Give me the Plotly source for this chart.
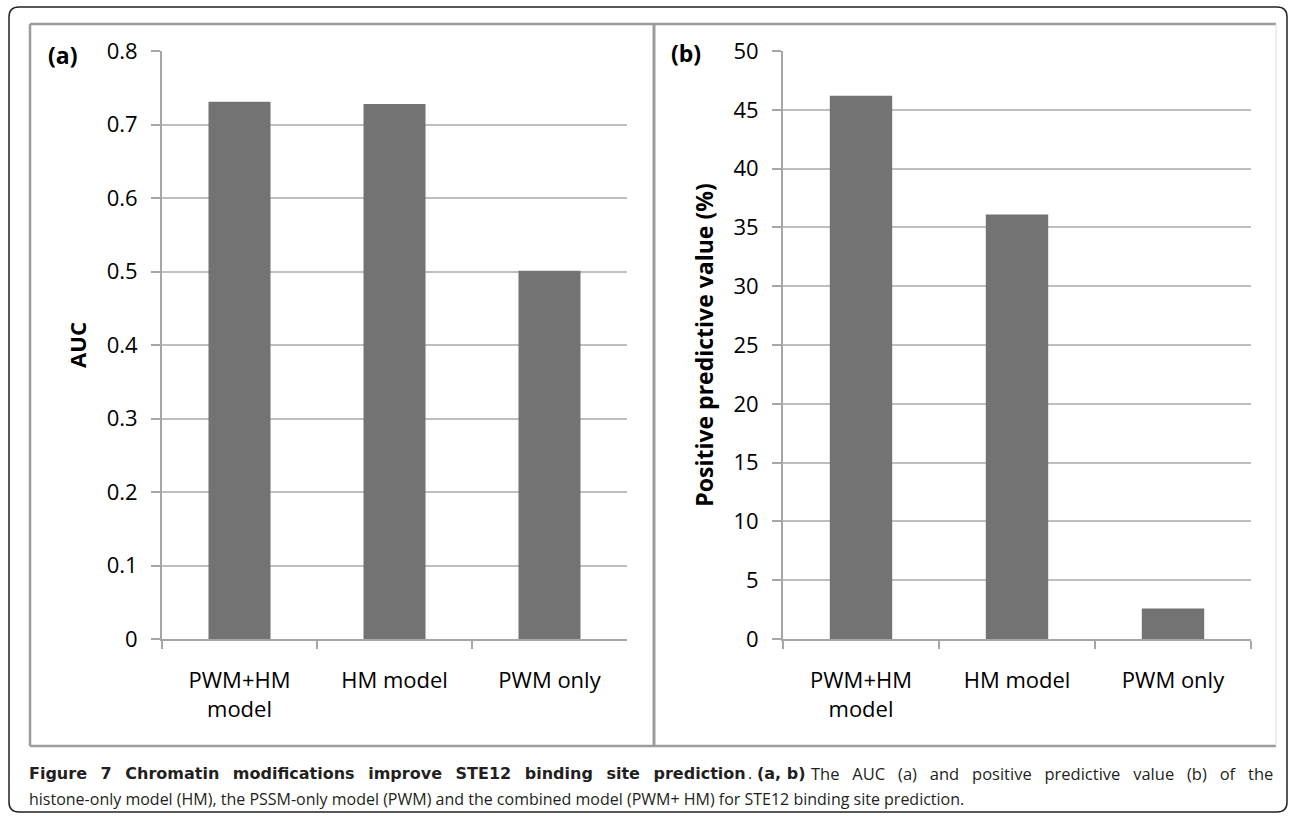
import plotly.graph_objects as go

# ---- data ----
categories = ["PWM+HM<br>model", "HM model", "PWM only"]
auc_values = [0.731, 0.728, 0.501]
ppv_values = [46.2, 36.1, 2.6]
auc_ticks = [0, 0.1, 0.2, 0.3, 0.4, 0.5, 0.6, 0.7, 0.8]
auc_ticktext = ["0", "0.1", "0.2", "0.3", "0.4", "0.5", "0.6", "0.7", "0.8"]
ppv_ticks = [0, 5, 10, 15, 20, 25, 30, 35, 40, 45, 50]
ppv_ticktext = [str(v) for v in ppv_ticks]

caption_bold = "Figure 7 Chromatin modifications improve STE12 binding site prediction"
caption_ab = "(a, b)"
caption_rest1 = "The AUC (a) and positive predictive value (b) of the"
caption_line2 = ("histone-only model (HM), the PSSM-only model (PWM) and the combined model "
                 "(PWM+ HM) for STE12 binding site prediction.")

W, H = 1290, 816
FONT = "Open Sans"
BOLDFONT = "DejaVu Sans"
BAR = "#737373"
AXC = "#a6a6a6"
GRID = "#bfbfbf"
FRAME = "#9c9c9c"


def px(x):
    return x / W


def py(y):
    return 1 - y / H


fig = go.Figure()
fig.add_trace(go.Bar(x=categories, y=auc_values, marker=dict(color=BAR, line=dict(width=0)),
                     xaxis="x", yaxis="y", showlegend=False, hoverinfo="skip"))
fig.add_trace(go.Bar(x=categories, y=ppv_values, marker=dict(color=BAR, line=dict(width=0)),
                     xaxis="x2", yaxis="y2", showlegend=False, hoverinfo="skip"))

xcommon = dict(type="category", tickson="boundaries", ticks="outside", ticklen=8,
               tickwidth=2, tickcolor=AXC, showline=True, linecolor=AXC, linewidth=2,
               showgrid=False, tickfont=dict(family=FONT, size=22, color="#000000"),
               ticklabelstandoff=21, automargin=False, fixedrange=True)
ycommon = dict(ticks="outside", ticklen=9, tickwidth=2, tickcolor=AXC, showline=True,
               linecolor=AXC, linewidth=2, showgrid=True, gridcolor=GRID, gridwidth=2,
               zeroline=False, tickfont=dict(family=FONT, size=22, color="#000000"),
               ticklabelstandoff=9, automargin=False, fixedrange=True)

ydom = [py(639), py(51)]
fig.update_layout(
    width=W, height=H, margin=dict(l=0, r=0, t=0, b=0, autoexpand=False),
    paper_bgcolor="white", plot_bgcolor="white", bargap=0.6,
    xaxis=dict(domain=[px(162), px(627)], anchor="y", **xcommon),
    yaxis=dict(domain=ydom, anchor="x", range=[0, 0.8], tickvals=auc_ticks,
               ticktext=auc_ticktext,
               title=dict(text="<b>AUC</b>", standoff=14,
                          font=dict(family=FONT, size=22, color="#000000")),
               **ycommon),
    xaxis2=dict(domain=[px(783), px(1251)], anchor="y2", **xcommon),
    yaxis2=dict(domain=ydom, anchor="x2", range=[0, 50], tickvals=ppv_ticks,
                ticktext=ppv_ticktext,
                title=dict(text="<b>Positive predictive value (%)</b>", standoff=13,
                           font=dict(family=FONT, size=23, color="#000000")),
                **ycommon),
)

# ---- frame decorations ----
shapes = []
x0, y0, x1, y1, r = 9, 7, 1287, 812, 10
path = (f"M {px(x0 + r)},{py(y0)} L {px(x1 - r)},{py(y0)} Q {px(x1)},{py(y0)} {px(x1)},{py(y0 + r)} "
        f"L {px(x1)},{py(y1 - r)} Q {px(x1)},{py(y1)} {px(x1 - r)},{py(y1)} "
        f"L {px(x0 + r)},{py(y1)} Q {px(x0)},{py(y1)} {px(x0)},{py(y1 - r)} "
        f"L {px(x0)},{py(y0 + r)} Q {px(x0)},{py(y0)} {px(x0 + r)},{py(y0)} Z")
shapes.append(dict(type="path", xref="paper", yref="paper", path=path,
                   line=dict(color="#222222", width=1.5)))


def seg(xa, ya, xb, yb, color, width):
    shapes.append(dict(type="line", xref="paper", yref="paper", x0=px(xa), y0=py(ya),
                       x1=px(xb), y1=py(yb), line=dict(color=color, width=width)))


seg(30, 24, 1276, 24, FRAME, 2.5)
seg(30, 746, 1276, 746, FRAME, 2.5)
seg(30, 24, 30, 746, FRAME, 2.5)
seg(654, 24, 654, 746, FRAME, 3)
seg(1276, 24, 1276, 746, "#dcdcdc", 1)
fig.update_layout(shapes=shapes)

# ---- text annotations ----
ann = []


def add_text(text, x, y, size, xanchor="left", color="#231f20", family=FONT):
    ann.append(dict(text=text, x=px(x), y=py(y), xref="paper", yref="paper",
                    showarrow=False, xanchor=xanchor, yanchor="middle",
                    font=dict(family=family, size=size, color=color)))


add_text("<b>(a)</b>", 62, 55, 23, "center", "#000000")
add_text("<b>(b)</b>", 686, 53, 23, "center", "#000000")

gapA = " " + "\u2002"
gapC = " " + "\u00a0" * 2
add_text("<b>" + gapA.join(caption_bold.split(" ")) + "</b>", 27, 773, 16, family=BOLDFONT)
add_text(".", 746, 773, 16)
add_text("<b>" + caption_ab + "</b>", 755, 773, 16, family=BOLDFONT)
add_text(gapC.join(caption_rest1.split(" ")), 1275, 773, 16.5, "right")
add_text(caption_line2, 27, 799, 16)
fig.update_layout(annotations=ann)

fig.write_html("out.html", config={"displayModeBar": False},
               post_script="document.body.style.margin='0';"
               "document.body.style.overflow='hidden';")
